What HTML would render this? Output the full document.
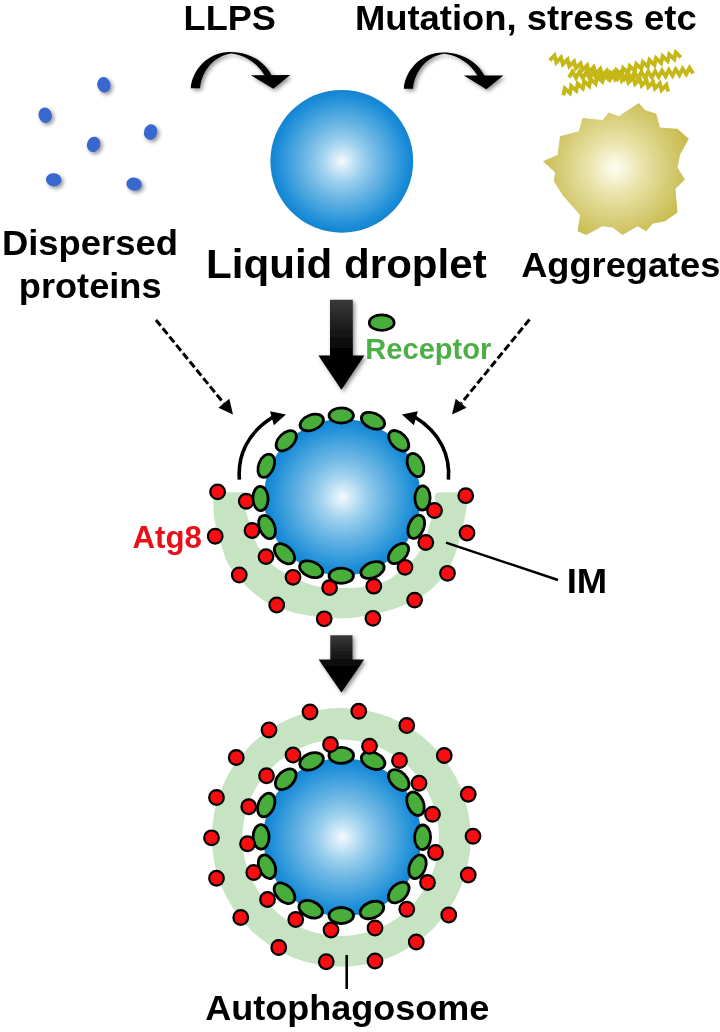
<!DOCTYPE html>
<html><head><meta charset="utf-8"><title>LLPS autophagy diagram</title>
<style>html,body{margin:0;padding:0;background:#fff;}body{width:720px;height:1032px;overflow:hidden;font-family:"Liberation Sans",sans-serif;}svg{display:block;}text{font-family:"Liberation Sans",sans-serif;font-weight:bold;}</style>
</head><body>
<svg width="720" height="1032" viewBox="0 0 720 1032">
<defs>
<radialGradient id="gBlue" cx="50%" cy="50%" r="50%">
<stop offset="0" stop-color="#f4fafd"/>
<stop offset="0.1" stop-color="#d6ebf8"/>
<stop offset="0.3" stop-color="#9bd0ee"/>
<stop offset="0.5" stop-color="#70b8e5"/>
<stop offset="0.75" stop-color="#3c9fdc"/>
<stop offset="0.92" stop-color="#1a8cd8"/>
<stop offset="1" stop-color="#1483d0"/>
</radialGradient>
<radialGradient id="gYel" cx="615" cy="168" r="80" gradientUnits="userSpaceOnUse">
<stop offset="0" stop-color="#fffff4"/>
<stop offset="0.35" stop-color="#e8e2a8"/>
<stop offset="0.75" stop-color="#d2c76a"/>
<stop offset="1" stop-color="#c6b945"/>
</radialGradient>
<linearGradient id="gArrow" x1="0" y1="0" x2="0" y2="1">
<stop offset="0" stop-color="#3a3a3a"/>
<stop offset="0.6" stop-color="#000"/>
<stop offset="1" stop-color="#000"/>
</linearGradient>
<filter id="sh" x="-30%" y="-30%" width="160%" height="160%">
<feGaussianBlur in="SourceAlpha" stdDeviation="1.9"/>
<feOffset dx="1.5" dy="2" result="o"/>
<feComponentTransfer><feFuncA type="linear" slope="0.45"/></feComponentTransfer>
<feMerge><feMergeNode/><feMergeNode in="SourceGraphic"/></feMerge>
</filter>
</defs>
<rect width="720" height="1032" fill="#fff"/>
<g opacity="0.999">
<text x="183.6" y="30.2" font-size="35.2" fill="#000" textLength="92.3" lengthAdjust="spacingAndGlyphs">LLPS</text>
<text x="354.9" y="30.2" font-size="34.4" fill="#000" textLength="341.8" lengthAdjust="spacingAndGlyphs">Mutation, stress etc</text>
<text x="1.9" y="254.6" font-size="34.2" fill="#000" textLength="176.0" lengthAdjust="spacingAndGlyphs">Dispersed</text>
<text x="18.8" y="297.6" font-size="34.2" fill="#000" textLength="142.8" lengthAdjust="spacingAndGlyphs">proteins</text>
<text x="206.1" y="277.7" font-size="39.8" fill="#000" textLength="280.6" lengthAdjust="spacingAndGlyphs">Liquid droplet</text>
<text x="521.2" y="276.8" font-size="34.4" fill="#000" textLength="199.2" lengthAdjust="spacingAndGlyphs">Aggregates</text>
<text x="365.3" y="359.4" font-size="28.7" fill="#4caf46" textLength="126.1" lengthAdjust="spacingAndGlyphs">Receptor</text>
<text x="132.6" y="547.8" font-size="30.6" fill="#e8111a" textLength="69.3" lengthAdjust="spacingAndGlyphs">Atg8</text>
<text x="566.7" y="593" font-size="35" fill="#000" textLength="40.5" lengthAdjust="spacingAndGlyphs">IM</text>
<text x="205.3" y="1020.4" font-size="34.5" fill="#000" textLength="284.0" lengthAdjust="spacingAndGlyphs">Autophagosome</text>
</g>
<g filter="url(#sh)">
<ellipse cx="103.9" cy="84.8" rx="6.6" ry="7.8" fill="#3768cd" transform="rotate(-15 103.9 84.8)"/>
<ellipse cx="45.2" cy="115.2" rx="6.6" ry="7.8" fill="#3768cd" transform="rotate(-15 45.2 115.2)"/>
<ellipse cx="150.6" cy="132.1" rx="6.6" ry="7.8" fill="#3768cd" transform="rotate(15 150.6 132.1)"/>
<ellipse cx="93.6" cy="144.4" rx="6.6" ry="7.8" fill="#3768cd" transform="rotate(20 93.6 144.4)"/>
<ellipse cx="53.7" cy="179.8" rx="6.6" ry="7.8" fill="#3768cd" transform="rotate(97 53.7 179.8)"/>
<ellipse cx="134.1" cy="184.1" rx="6.6" ry="7.8" fill="#3768cd" transform="rotate(102 134.1 184.1)"/>
</g>
<g filter="url(#sh)" transform="translate(0 0)">
<path d="M190.8 88.3 C192 70 208 52 230 52 C250 52 265 62 272 76 L265 76 C258 64 246 55 231.5 53.4 C214 56 202 70 200 88.3 Z" fill="#000"/>
<path d="M250.8 75.2 L290.3 75 L273.3 88.8 Z" fill="#000"/>
</g>
<g filter="url(#sh)" transform="translate(213 0.4)">
<path d="M190.8 88.3 C192 70 208 52 230 52 C250 52 265 62 272 76 L265 76 C258 64 246 55 231.5 53.4 C214 56 202 70 200 88.3 Z" fill="#000"/>
<path d="M250.8 75.2 L290.3 75 L273.3 88.8 Z" fill="#000"/>
</g>
<circle cx="341.8" cy="161.3" r="71.4" fill="url(#gBlue)"/>
<g fill="none" stroke="#c4b716" stroke-width="3.9" stroke-linejoin="miter">
<polyline points="549.7,60.4 554.5,55.6 556.3,62.4 561.0,57.6 562.8,64.3 567.6,59.5 569.3,66.3 574.1,61.5 575.8,68.2 580.6,63.4 582.4,70.1 587.2,65.3 588.9,72.0 593.7,67.1 595.5,73.8 600.3,68.9 602.0,75.6 606.8,70.7 608.6,77.4 613.4,72.4 615.2,79.1 620.0,74.1 621.8,80.7 626.6,75.7 628.4,82.3 633.2,77.3 635.0,83.9 639.9,78.9 641.7,85.4 646.5,80.4 648.3,87.0 653.1,81.9 654.9,88.5 659.8,83.4 661.6,89.9 666.4,84.9 668.2,91.4"/>
<polyline points="563.4,95.4 564.8,88.5 569.9,93.0 571.2,86.1 576.3,90.6 577.7,83.8 582.8,88.3 584.2,81.4 589.2,86.0 590.6,79.1 595.7,83.7 597.1,76.9 602.2,81.5 603.6,74.6 608.7,79.2 610.1,72.4 615.2,77.1 616.6,70.3 621.7,74.9 623.1,68.2 628.2,72.8 629.7,66.1 634.8,70.8 636.2,64.1 641.4,68.8 642.8,62.1 647.9,66.8 649.4,60.1 654.5,64.9 656.0,58.2 661.1,63.0 662.6,56.3 667.7,61.1 669.2,54.4 674.3,59.2 675.8,52.6 680.9,57.4"/>
<polyline points="569.1,77.5 572.4,71.7 576.0,77.8 579.3,71.9 582.9,78.1 586.2,72.2 589.8,78.3 593.1,72.4 596.7,78.5 600.0,72.6 603.6,78.7 606.9,72.7 610.5,78.8 613.8,72.8 617.4,78.8 620.7,72.7 624.3,78.7 627.6,72.6 631.2,78.5 634.4,72.4 638.1,78.2 641.3,72.1 645.0,77.9 648.2,71.7 651.8,77.4 655.1,71.2 658.7,76.9 662.0,70.6 665.6,76.3 668.8,70.0 672.5,75.7 675.7,69.3 679.4,75.0 682.6,68.6 686.2,74.2 689.5,67.9 693.1,73.5"/>
</g>
<polygon points="638.75,103 645,110 656.25,113.75 660,127.5 677.5,128.75 688.75,138.75 680,155 677.5,167.5 685,179.5 675.5,188.75 677.5,212.5 665,221.25 652.5,223.75 646.25,231.25 637.5,226.25 622.5,235 612.5,227.5 602.5,226.25 586.25,235 577.5,231.25 580,215 562.5,195 553.75,181.25 555,172.5 543,161.25 557.5,155 560,136.25 578.75,131.25 582.5,118 602.5,120 608.75,112.5 618.75,116.25 630,108.75" fill="url(#gYel)"/>
<path filter="url(#sh)" d="M330.0 299.8 L352.79999999999995 299.8 L352.79999999999995 355.6 L364.4 355.6 L341.4 389.8 L318.4 355.6 L330.0 355.6 Z" fill="url(#gArrow)"/>
<path filter="url(#sh)" d="M330.29999999999995 635.2 L352.5 635.2 L352.5 659.4 L364.2 659.4 L341.4 692.5 L318.59999999999997 659.4 L330.29999999999995 659.4 Z" fill="url(#gArrow)"/>
<ellipse cx="381.7" cy="322.7" rx="12.5" ry="7.8" fill="#49ad3b" stroke="#000" stroke-width="2.6"/>
<line x1="156" y1="320" x2="223.8" y2="403.3" stroke="#000" stroke-width="3" stroke-dasharray="7.5 3.2"/>
<polygon points="233,414.5 218.4,407.7 229.3,398.8" fill="#000"/>
<line x1="529.5" y1="319.5" x2="461.2" y2="403.3" stroke="#000" stroke-width="3" stroke-dasharray="7.5 3.2"/>
<polygon points="452,414.5 455.7,398.8 466.6,407.7" fill="#000"/>
<path d="M218.3 492.3 Q213.3 492.3 213.3 497.3 C213.4 499.1 213.3 503.9 213.6 508.0 C213.8 512.1 213.5 515.4 214.8 521.7 C216.1 528.0 219.1 538.6 221.5 546.0 C223.9 553.4 225.4 559.3 229.5 566.0 C233.6 572.7 239.6 579.8 246.0 586.0 C252.4 592.2 260.2 598.6 268.0 603.0 C275.8 607.4 284.2 609.8 293.0 612.2 C301.8 614.6 312.8 616.2 321.0 617.2 C329.2 618.2 335.5 618.4 342.0 618.3 C348.5 618.2 353.0 617.9 360.0 616.8 C367.0 615.7 376.0 613.9 384.0 611.7 C392.0 609.5 400.2 607.2 408.0 603.5 C415.8 599.8 424.3 595.2 431.0 589.5 C437.7 583.8 443.6 576.6 448.0 569.5 C452.4 562.4 454.6 556.2 457.5 547.0 C460.4 537.8 463.8 522.3 465.5 514.0 C467.2 505.7 467.2 500.1 467.5 497.3 Q467.5 492.3 462.5 492.3 L439.7 492.3 Q434.7 492.3 434.7 497.3 C434.8 498.6 435.9 500.4 435.0 505.0 C434.1 509.6 431.8 517.7 429.5 525.0 C427.2 532.3 425.0 541.9 421.0 549.0 C417.0 556.1 411.6 562.1 405.5 567.5 C399.4 572.9 392.3 578.2 384.7 581.5 C377.1 584.8 367.4 586.1 360.0 587.2 C352.6 588.3 346.7 588.1 340.0 588.0 C333.3 587.9 326.7 588.0 320.0 586.7 C313.3 585.5 307.5 583.8 300.0 580.5 C292.5 577.2 281.9 572.3 275.0 566.7 C268.1 561.1 262.3 553.1 258.5 547.0 C254.7 540.9 254.0 535.6 252.0 530.0 C250.0 524.4 248.1 518.8 246.5 513.3 C244.9 507.8 243.2 500.0 242.6 497.3 Q242.6 492.3 247.6 492.3 Z" fill="#c6e4c2"/>
<circle cx="342.3" cy="497.3" r="78.3" fill="url(#gBlue)"/>
<circle cx="217.6" cy="491.9" r="7.3" fill="#f80d10" stroke="#000" stroke-width="2.2"/>
<circle cx="246.25" cy="501.25" r="7.3" fill="#f80d10" stroke="#000" stroke-width="2.2"/>
<circle cx="215.2" cy="536.25" r="7.3" fill="#f80d10" stroke="#000" stroke-width="2.2"/>
<circle cx="252" cy="530.5" r="7.3" fill="#f80d10" stroke="#000" stroke-width="2.2"/>
<circle cx="266" cy="556.6" r="7.3" fill="#f80d10" stroke="#000" stroke-width="2.2"/>
<circle cx="239.25" cy="575" r="7.3" fill="#f80d10" stroke="#000" stroke-width="2.2"/>
<circle cx="293" cy="577.3" r="7.3" fill="#f80d10" stroke="#000" stroke-width="2.2"/>
<circle cx="276.7" cy="605" r="7.3" fill="#f80d10" stroke="#000" stroke-width="2.2"/>
<circle cx="329.6" cy="587.6" r="7.3" fill="#f80d10" stroke="#000" stroke-width="2.2"/>
<circle cx="324.2" cy="618.8" r="7.3" fill="#f80d10" stroke="#000" stroke-width="2.2"/>
<circle cx="373.8" cy="586.2" r="7.3" fill="#f80d10" stroke="#000" stroke-width="2.2"/>
<circle cx="372.9" cy="618.3" r="7.3" fill="#f80d10" stroke="#000" stroke-width="2.2"/>
<circle cx="405" cy="567.3" r="7.3" fill="#f80d10" stroke="#000" stroke-width="2.2"/>
<circle cx="414.6" cy="600.1" r="7.3" fill="#f80d10" stroke="#000" stroke-width="2.2"/>
<circle cx="425.8" cy="542.5" r="7.3" fill="#f80d10" stroke="#000" stroke-width="2.2"/>
<circle cx="447.5" cy="573.3" r="7.3" fill="#f80d10" stroke="#000" stroke-width="2.2"/>
<circle cx="434.5" cy="510.5" r="7.3" fill="#f80d10" stroke="#000" stroke-width="2.2"/>
<circle cx="465.75" cy="495.7" r="7.3" fill="#f80d10" stroke="#000" stroke-width="2.2"/>
<circle cx="467" cy="533" r="7.3" fill="#f80d10" stroke="#000" stroke-width="2.2"/>
<ellipse cx="341.25" cy="415.5" rx="12.2" ry="7.6" fill="#49ad3b" stroke="#000" stroke-width="2.8" transform="rotate(-0.2 341.25 415.5)"/>
<ellipse cx="373" cy="420.75" rx="12.2" ry="7.6" fill="#49ad3b" stroke="#000" stroke-width="2.8" transform="rotate(22.7 373 420.75)"/>
<ellipse cx="398.75" cy="440.75" rx="12.2" ry="7.6" fill="#49ad3b" stroke="#000" stroke-width="2.8" transform="rotate(46.0 398.75 440.75)"/>
<ellipse cx="415.5" cy="465" rx="12.2" ry="7.6" fill="#49ad3b" stroke="#000" stroke-width="2.8" transform="rotate(67.3 415.5 465)"/>
<ellipse cx="422.5" cy="498" rx="12.2" ry="7.6" fill="#49ad3b" stroke="#000" stroke-width="2.8" transform="rotate(91.4 422.5 498)"/>
<ellipse cx="416.25" cy="526.75" rx="12.2" ry="7.6" fill="#49ad3b" stroke="#000" stroke-width="2.8" transform="rotate(112.4 416.25 526.75)"/>
<ellipse cx="260.5" cy="498.5" rx="12.2" ry="7.6" fill="#49ad3b" stroke="#000" stroke-width="2.8" transform="rotate(268.2 260.5 498.5)"/>
<ellipse cx="267" cy="527" rx="12.2" ry="7.6" fill="#49ad3b" stroke="#000" stroke-width="2.8" transform="rotate(247.4 267 527)"/>
<ellipse cx="284.5" cy="553.75" rx="12.2" ry="7.6" fill="#49ad3b" stroke="#000" stroke-width="2.8" transform="rotate(224.6 284.5 553.75)"/>
<ellipse cx="311.25" cy="569.25" rx="12.2" ry="7.6" fill="#49ad3b" stroke="#000" stroke-width="2.8" transform="rotate(202.4 311.25 569.25)"/>
<ellipse cx="341.25" cy="575.75" rx="12.2" ry="7.6" fill="#49ad3b" stroke="#000" stroke-width="2.8" transform="rotate(180.2 341.25 575.75)"/>
<ellipse cx="372.5" cy="570" rx="12.2" ry="7.6" fill="#49ad3b" stroke="#000" stroke-width="2.8" transform="rotate(157.3 372.5 570)"/>
<ellipse cx="311.75" cy="422.5" rx="12.2" ry="7.6" fill="#49ad3b" stroke="#000" stroke-width="2.8" transform="rotate(-22.0 311.75 422.5)"/>
<ellipse cx="286.25" cy="440.75" rx="12.2" ry="7.6" fill="#49ad3b" stroke="#000" stroke-width="2.8" transform="rotate(-45.0 286.25 440.75)"/>
<ellipse cx="266.25" cy="465.75" rx="12.2" ry="7.6" fill="#49ad3b" stroke="#000" stroke-width="2.8" transform="rotate(-68.1 266.25 465.75)"/>
<ellipse cx="398.5" cy="553.5" rx="12.2" ry="7.6" fill="#49ad3b" stroke="#000" stroke-width="2.8" transform="rotate(135.3 398.5 553.5)"/>
<path d="M239.4 479.6 C237.5 456 247 433 273 417" fill="none" stroke="#000" stroke-width="3.6"/>
<polygon points="285.9,414.4 270,411.2 273.9,425.2" fill="#000"/>
<path d="M448.4 479.6 C450.3 456 440.8 433 414.8 417" fill="none" stroke="#000" stroke-width="3.6"/>
<polygon points="401.9,414.4 417.8,411.2 413.9,425.2" fill="#000"/>
<line x1="446" y1="542.6" x2="558" y2="580" stroke="#000" stroke-width="2.5"/>
<circle cx="341.3" cy="837.4" r="129.4" fill="#c6e4c2"/>
<circle cx="340.7" cy="837.7" r="98.3" fill="#fff"/>
<circle cx="342.3" cy="837.3" r="79" fill="url(#gBlue)"/>
<circle cx="310" cy="712" r="7.3" fill="#f80d10" stroke="#000" stroke-width="2.2"/>
<circle cx="358.75" cy="711.25" r="7.3" fill="#f80d10" stroke="#000" stroke-width="2.2"/>
<circle cx="269" cy="730" r="7.3" fill="#f80d10" stroke="#000" stroke-width="2.2"/>
<circle cx="236.25" cy="757.5" r="7.3" fill="#f80d10" stroke="#000" stroke-width="2.2"/>
<circle cx="216.5" cy="797.5" r="7.3" fill="#f80d10" stroke="#000" stroke-width="2.2"/>
<circle cx="211.5" cy="837.8" r="7.3" fill="#f80d10" stroke="#000" stroke-width="2.2"/>
<circle cx="406.75" cy="725.5" r="7.3" fill="#f80d10" stroke="#000" stroke-width="2.2"/>
<circle cx="444.25" cy="755.5" r="7.3" fill="#f80d10" stroke="#000" stroke-width="2.2"/>
<circle cx="468.25" cy="794.25" r="7.3" fill="#f80d10" stroke="#000" stroke-width="2.2"/>
<circle cx="473" cy="836.25" r="7.3" fill="#f80d10" stroke="#000" stroke-width="2.2"/>
<circle cx="216.5" cy="878.25" r="7.3" fill="#f80d10" stroke="#000" stroke-width="2.2"/>
<circle cx="240.75" cy="917.5" r="7.3" fill="#f80d10" stroke="#000" stroke-width="2.2"/>
<circle cx="278.75" cy="947.5" r="7.3" fill="#f80d10" stroke="#000" stroke-width="2.2"/>
<circle cx="326.25" cy="961.75" r="7.3" fill="#f80d10" stroke="#000" stroke-width="2.2"/>
<circle cx="375" cy="961" r="7.3" fill="#f80d10" stroke="#000" stroke-width="2.2"/>
<circle cx="468.25" cy="875" r="7.3" fill="#f80d10" stroke="#000" stroke-width="2.2"/>
<circle cx="448.75" cy="915" r="7.3" fill="#f80d10" stroke="#000" stroke-width="2.2"/>
<circle cx="416.25" cy="942" r="7.3" fill="#f80d10" stroke="#000" stroke-width="2.2"/>
<ellipse cx="341.25" cy="755.4" rx="12.3" ry="8" fill="#49ad3b" stroke="#000" stroke-width="2.8" transform="rotate(-0.2 341.25 755.4)"/>
<ellipse cx="311.6" cy="761.3" rx="12.3" ry="8" fill="#49ad3b" stroke="#000" stroke-width="2.8" transform="rotate(-21.9 311.6 761.3)"/>
<ellipse cx="285.75" cy="779.25" rx="12.3" ry="8" fill="#49ad3b" stroke="#000" stroke-width="2.8" transform="rotate(-44.7 285.75 779.25)"/>
<ellipse cx="266.25" cy="805" rx="12.3" ry="8" fill="#49ad3b" stroke="#000" stroke-width="2.8" transform="rotate(-67.9 266.25 805)"/>
<ellipse cx="261.1" cy="836.9" rx="12.3" ry="8" fill="#49ad3b" stroke="#000" stroke-width="2.8" transform="rotate(269.0 261.1 836.9)"/>
<ellipse cx="373.1" cy="760.7" rx="12.3" ry="8" fill="#49ad3b" stroke="#000" stroke-width="2.8" transform="rotate(22.9 373.1 760.7)"/>
<ellipse cx="398.75" cy="780" rx="12.3" ry="8" fill="#49ad3b" stroke="#000" stroke-width="2.8" transform="rotate(45.9 398.75 780)"/>
<ellipse cx="415.5" cy="803.75" rx="12.3" ry="8" fill="#49ad3b" stroke="#000" stroke-width="2.8" transform="rotate(66.8 415.5 803.75)"/>
<ellipse cx="422.6" cy="837.3" rx="12.3" ry="8" fill="#49ad3b" stroke="#000" stroke-width="2.8" transform="rotate(91.3 422.6 837.3)"/>
<ellipse cx="267" cy="866.75" rx="12.3" ry="8" fill="#49ad3b" stroke="#000" stroke-width="2.8" transform="rotate(247.2 267 866.75)"/>
<ellipse cx="284.5" cy="893.25" rx="12.3" ry="8" fill="#49ad3b" stroke="#000" stroke-width="2.8" transform="rotate(224.6 284.5 893.25)"/>
<ellipse cx="310.75" cy="909.25" rx="12.3" ry="8" fill="#49ad3b" stroke="#000" stroke-width="2.8" transform="rotate(202.6 310.75 909.25)"/>
<ellipse cx="341.25" cy="915.5" rx="12.3" ry="8" fill="#49ad3b" stroke="#000" stroke-width="2.8" transform="rotate(180.2 341.25 915.5)"/>
<ellipse cx="372" cy="910" rx="12.3" ry="8" fill="#49ad3b" stroke="#000" stroke-width="2.8" transform="rotate(157.7 372 910)"/>
<ellipse cx="417.5" cy="866.75" rx="12.3" ry="8" fill="#49ad3b" stroke="#000" stroke-width="2.8" transform="rotate(112.4 417.5 866.75)"/>
<ellipse cx="398.75" cy="892.5" rx="12.3" ry="8" fill="#49ad3b" stroke="#000" stroke-width="2.8" transform="rotate(134.9 398.75 892.5)"/>
<circle cx="330.5" cy="744.5" r="7.3" fill="#f80d10" stroke="#000" stroke-width="2.2"/>
<circle cx="369.5" cy="746.25" r="7.3" fill="#f80d10" stroke="#000" stroke-width="2.2"/>
<circle cx="293" cy="755" r="7.3" fill="#f80d10" stroke="#000" stroke-width="2.2"/>
<circle cx="266.5" cy="775.75" r="7.3" fill="#f80d10" stroke="#000" stroke-width="2.2"/>
<circle cx="248.75" cy="806.75" r="7.3" fill="#f80d10" stroke="#000" stroke-width="2.2"/>
<circle cx="247.5" cy="843.75" r="7.3" fill="#f80d10" stroke="#000" stroke-width="2.2"/>
<circle cx="399.5" cy="760.5" r="7.3" fill="#f80d10" stroke="#000" stroke-width="2.2"/>
<circle cx="419" cy="783.25" r="7.3" fill="#f80d10" stroke="#000" stroke-width="2.2"/>
<circle cx="432.5" cy="814.25" r="7.3" fill="#f80d10" stroke="#000" stroke-width="2.2"/>
<circle cx="253.75" cy="872.5" r="7.3" fill="#f80d10" stroke="#000" stroke-width="2.2"/>
<circle cx="267.5" cy="899.5" r="7.3" fill="#f80d10" stroke="#000" stroke-width="2.2"/>
<circle cx="295.75" cy="919.5" r="7.3" fill="#f80d10" stroke="#000" stroke-width="2.2"/>
<circle cx="331" cy="930" r="7.3" fill="#f80d10" stroke="#000" stroke-width="2.2"/>
<circle cx="375" cy="928" r="7.3" fill="#f80d10" stroke="#000" stroke-width="2.2"/>
<circle cx="435.5" cy="852.5" r="7.3" fill="#f80d10" stroke="#000" stroke-width="2.2"/>
<circle cx="427.5" cy="882.5" r="7.3" fill="#f80d10" stroke="#000" stroke-width="2.2"/>
<circle cx="406.75" cy="909.25" r="7.3" fill="#f80d10" stroke="#000" stroke-width="2.2"/>
<line x1="346.7" y1="955" x2="346.7" y2="989" stroke="#000" stroke-width="2.6"/>
</svg></body></html>
